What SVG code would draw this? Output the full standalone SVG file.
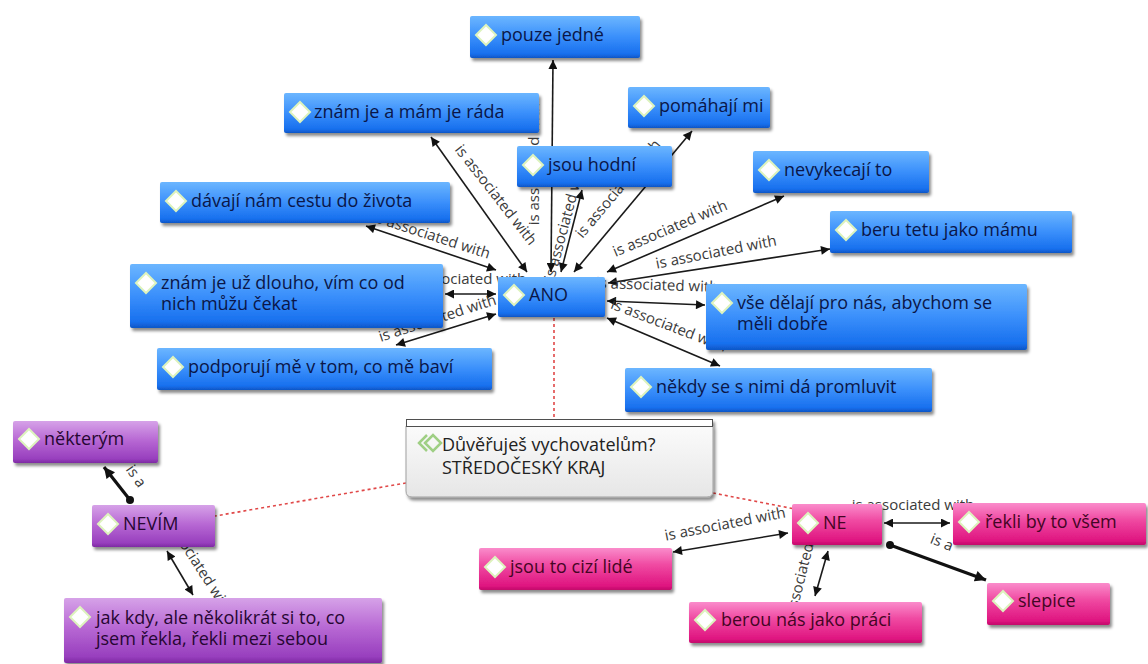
<svg xmlns="http://www.w3.org/2000/svg" xmlns:xlink="http://www.w3.org/1999/xlink" width="1148" height="664" viewBox="0 0 1148 664">
<style>
  .nt{font-family:"Open Sans","Noto Sans","DejaVu Sans",sans-serif;font-size:18px}
  .bt{fill:#0a1648}
  .pt{fill:#260632}
  .kt{fill:#440524}
  .ct{fill:#222222}
  .lbl{font-family:"Open Sans","Noto Sans","DejaVu Sans",sans-serif;font-size:15px;fill:#3a3a3a;text-anchor:middle}
  .ln{stroke:#1a1a1a;stroke-width:1.6;fill:none;marker-start:url(#ah);marker-end:url(#ah)}
  .isa{stroke:#111;stroke-width:3.2;fill:none;marker-end:url(#ah2)}
  .dot{stroke:#e04848;stroke-width:1.6;stroke-dasharray:3 3;fill:none}
  .blue{fill:url(#gB)}
  .purple{fill:url(#gP)}
  .pink{fill:url(#gK)}
</style>
<defs>
  <linearGradient id="gB" x1="0" y1="0" x2="0" y2="1">
    <stop offset="0" stop-color="#6cb6ff"/>
    <stop offset="0.5" stop-color="#3a8ffb"/>
    <stop offset="0.9" stop-color="#1870ee"/>
    <stop offset="1" stop-color="#0e56c6"/>
  </linearGradient>
  <linearGradient id="gP" x1="0" y1="0" x2="0" y2="1">
    <stop offset="0" stop-color="#d6a2e8"/>
    <stop offset="0.45" stop-color="#b869d4"/>
    <stop offset="0.9" stop-color="#983fbe"/>
    <stop offset="1" stop-color="#7e2aa3"/>
  </linearGradient>
  <linearGradient id="gK" x1="0" y1="0" x2="0" y2="1">
    <stop offset="0" stop-color="#fa8ccb"/>
    <stop offset="0.4" stop-color="#f04aa2"/>
    <stop offset="0.9" stop-color="#df1580"/>
    <stop offset="1" stop-color="#c20a6a"/>
  </linearGradient>
  <linearGradient id="gC" x1="0" y1="0" x2="0" y2="1">
    <stop offset="0" stop-color="#fbfbfb"/>
    <stop offset="1" stop-color="#e6e6e6"/>
  </linearGradient>
  <filter id="sh" x="-10%" y="-20%" width="130%" height="160%">
    <feDropShadow dx="2" dy="3" stdDeviation="1.5" flood-color="#000" flood-opacity="0.45"/>
  </filter>
  <marker id="ah" viewBox="0 0 10 10" refX="10" refY="5" markerWidth="11" markerHeight="9" markerUnits="userSpaceOnUse" orient="auto-start-reverse">
    <path d="M0,0 L10,5 L0,10 Z" fill="#111"/>
  </marker>
  <marker id="ah2" viewBox="0 0 10 10" refX="10" refY="5" markerWidth="12" markerHeight="11" markerUnits="userSpaceOnUse" orient="auto">
    <path d="M0,0 L10,5 L0,10 Z" fill="#111"/>
  </marker>
  <g id="dia">
    <path d="M-10,0 L0,-10 L10,0 L0,10 Z" fill="#ffffff" stroke="#ddf3bd" stroke-width="2"/>
  </g>
</defs>

<rect width="1148" height="664" fill="#ffffff"/>

<g id="connectors">
  <line class="dot" x1="554" y1="318" x2="554" y2="419"/>
  <line class="dot" x1="406" y1="483" x2="215" y2="516"/>
  <line class="dot" x1="713" y1="493" x2="795" y2="509"/>

  <line class="ln" x1="527" y1="272" x2="431" y2="137"/>
  <line class="ln" x1="551" y1="272" x2="553" y2="60"/>
  <line class="ln" x1="561" y1="272" x2="582" y2="190"/>
  <line class="ln" x1="574" y1="272" x2="692" y2="131"/>
  <line class="ln" x1="607" y1="272" x2="784" y2="196"/>
  <line class="ln" x1="608" y1="283" x2="830" y2="249"/>
  <line class="ln" x1="607" y1="301" x2="705" y2="305"/>
  <line class="ln" x1="607" y1="318" x2="720" y2="366"/>
  <line class="ln" x1="496" y1="270" x2="366" y2="226"/>
  <line class="ln" x1="496" y1="294" x2="445" y2="294"/>
  <line class="ln" x1="496" y1="314" x2="396" y2="345"/>

  <text class="lbl" x="492" y="198" transform="rotate(52 492 198)">is associated with</text>
  <text class="lbl" x="539" y="164" transform="rotate(-90 539 164)">is associated with</text>
  <text class="lbl" x="570" y="222" transform="rotate(-75 570 222)">is associated with</text>
  <text class="lbl" x="622" y="192" transform="rotate(-50 622 192)">is associated with</text>
  <text class="lbl" x="672" y="233" transform="rotate(-23 672 233)">is associated with</text>
  <text class="lbl" x="717" y="257" transform="rotate(-11 717 257)">is associated with</text>
  <text class="lbl" x="657" y="290" transform="rotate(2 657 290)">is associated with</text>
  <text class="lbl" x="667" y="330" transform="rotate(21 667 330)">is associated with</text>
  <text class="lbl" x="430" y="240" transform="rotate(18 430 240)">is associated with</text>
  <text class="lbl" x="465" y="284">is associated with</text>
  <text class="lbl" x="439" y="323" transform="rotate(-18 439 323)">is associated with</text>

  <line class="isa" x1="130" y1="500" x2="104" y2="467"/>
  <circle cx="130" cy="500" r="4" fill="#111"/>
  <text class="lbl" x="132" y="479" transform="rotate(55 132 479)">is a</text>
  <line class="ln" x1="167" y1="551" x2="193" y2="595"/>
  <text class="lbl" x="192" y="564" transform="rotate(57 192 564)">is associated with</text>

  <line class="ln" x1="788" y1="533" x2="673" y2="552"/>
  <text class="lbl" x="726" y="529" transform="rotate(-11 726 529)">is associated with</text>
  <line class="ln" x1="884" y1="523" x2="950" y2="523"/>
  <text class="lbl" x="913" y="510">is associated with</text>
  <line class="isa" x1="890" y1="545" x2="986" y2="580"/>
  <circle cx="890" cy="545" r="4" fill="#111"/>
  <text class="lbl" x="940" y="547" transform="rotate(22 940 547)">is a</text>
  <line class="ln" x1="828" y1="551" x2="815" y2="596"/>
  <text class="lbl" x="807" y="571" transform="rotate(-76 807 571)">is associated with</text>
</g>

<g id="n-center">
  <g filter="url(#sh)">
    <path d="M406,426 H713 V491 Q713,497 707,497 H412 Q406,497 406,491 Z" fill="url(#gC)" stroke="#a0a0a0" stroke-width="1"/>
    <rect x="406.5" y="419.5" width="306" height="7" fill="#ffffff" stroke="#505050" stroke-width="1"/>
  </g>
  <path d="M427,435 L419,443 L427,451" fill="none" stroke="#9fcf84" stroke-width="2.5"/>
  <path d="M425,443 L433,435 L441,443 L433,451 Z" fill="none" stroke="#9fcf84" stroke-width="2.5"/>
  <text class="nt ct" x="442" y="451">Důvěřuješ vychovatelům?</text>
  <text class="nt ct" x="442" y="474">STŘEDOČESKÝ KRAJ</text>
</g>

<g id="n-pouze"><rect class="blue" x="470" y="16" width="170" height="42" rx="2" filter="url(#sh)"/><use href="#dia" x="486" y="35"/><text class="nt bt" x="501" y="41">pouze jedné</text></g>
<g id="n-znam-rada"><rect class="blue" x="284" y="93" width="255" height="40" rx="2" filter="url(#sh)"/><use href="#dia" x="300" y="112"/><text class="nt bt" x="314" y="118">znám je a mám je ráda</text></g>
<g id="n-pomahaji"><rect class="blue" x="628" y="87" width="142" height="41" rx="2" filter="url(#sh)"/><use href="#dia" x="644" y="106"/><text class="nt bt" x="659" y="112">pomáhají mi</text></g>
<g id="n-hodni"><rect class="blue" x="517" y="146" width="155" height="41" rx="2" filter="url(#sh)"/><use href="#dia" x="533" y="165"/><text class="nt bt" x="548" y="171">jsou hodní</text></g>
<g id="n-davaji"><rect class="blue" x="160" y="182" width="290" height="41" rx="2" filter="url(#sh)"/><use href="#dia" x="176" y="201"/><text class="nt bt" x="191" y="207">dávají nám cestu do života</text></g>
<g id="n-znam-dlouho"><rect class="blue" x="130" y="264" width="313" height="64" rx="2" filter="url(#sh)"/><use href="#dia" x="146" y="283"/><text class="nt bt" x="161" y="289">znám je už dlouho, vím co od</text><text class="nt bt" x="161" y="310">nich můžu čekat</text></g>
<g id="n-podporuji"><rect class="blue" x="157" y="348" width="335" height="42" rx="2" filter="url(#sh)"/><use href="#dia" x="173" y="367"/><text class="nt bt" x="188" y="373">podporují mě v tom, co mě baví</text></g>
<g id="n-ano"><rect class="blue" x="498" y="277" width="107" height="40" rx="2" filter="url(#sh)"/><use href="#dia" x="514" y="295"/><text class="nt bt" x="529" y="301">ANO</text></g>
<g id="n-nevykecaji"><rect class="blue" x="753" y="151" width="176" height="42" rx="2" filter="url(#sh)"/><use href="#dia" x="769" y="170"/><text class="nt bt" x="784" y="176">nevykecají to</text></g>
<g id="n-beru"><rect class="blue" x="830" y="211" width="242" height="42" rx="2" filter="url(#sh)"/><use href="#dia" x="846" y="230"/><text class="nt bt" x="861" y="236">beru tetu jako mámu</text></g>
<g id="n-vse"><rect class="blue" x="706" y="284" width="321" height="66" rx="2" filter="url(#sh)"/><use href="#dia" x="722" y="303"/><text class="nt bt" x="737" y="309">vše dělají pro nás, abychom se</text><text class="nt bt" x="737" y="330">měli dobře</text></g>
<g id="n-nekdy"><rect class="blue" x="625" y="368" width="307" height="44" rx="2" filter="url(#sh)"/><use href="#dia" x="641" y="387"/><text class="nt bt" x="656" y="393">někdy se s nimi dá promluvit</text></g>

<g id="n-nekterym"><rect class="purple" x="13" y="421" width="145" height="42" rx="2" filter="url(#sh)"/><use href="#dia" x="29" y="439"/><text class="nt pt" x="44" y="445">některým</text></g>
<g id="n-nevim"><rect class="purple" x="92" y="505" width="123" height="42" rx="2" filter="url(#sh)"/><use href="#dia" x="108" y="524"/><text class="nt pt" x="123" y="530">NEVÍM</text></g>
<g id="n-jakkdy"><rect class="purple" x="64" y="598" width="318" height="65" rx="2" filter="url(#sh)"/><use href="#dia" x="80" y="617"/><text class="nt pt" x="96" y="624">jak kdy, ale několikrát si to, co</text><text class="nt pt" x="96" y="645">jsem řekla, řekli mezi sebou</text></g>

<g id="n-ne"><rect class="pink" x="792" y="504" width="90" height="41" rx="2" filter="url(#sh)"/><use href="#dia" x="808" y="523"/><text class="nt kt" x="823" y="529">NE</text></g>
<g id="n-rekli"><rect class="pink" x="953" y="503" width="193" height="42" rx="2" filter="url(#sh)"/><use href="#dia" x="969" y="522"/><text class="nt kt" x="985" y="528">řekli by to všem</text></g>
<g id="n-slepice"><rect class="pink" x="987" y="583" width="123" height="42" rx="2" filter="url(#sh)"/><use href="#dia" x="1003" y="601"/><text class="nt kt" x="1018" y="607">slepice</text></g>
<g id="n-berou"><rect class="pink" x="689" y="602" width="233" height="41" rx="2" filter="url(#sh)"/><use href="#dia" x="705" y="620"/><text class="nt kt" x="721" y="626">berou nás jako práci</text></g>
<g id="n-cizi"><rect class="pink" x="479" y="548" width="193" height="42" rx="2" filter="url(#sh)"/><use href="#dia" x="495" y="567"/><text class="nt kt" x="510" y="573">jsou to cizí lidé</text></g>
</svg>
